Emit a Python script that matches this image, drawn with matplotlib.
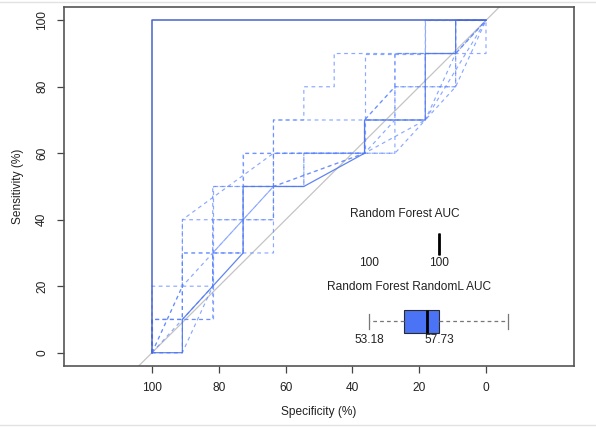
import matplotlib
matplotlib.use("Agg")
import matplotlib.pyplot as plt
from matplotlib.lines import Line2D
import numpy as np

plt.rcParams['font.family'] = ['Liberation Sans', 'DejaVu Sans']
plt.rcParams['font.size'] = 8.6

# Test set size: 11 negatives, 10 positives
n_neg = 11
n_pos = 10

# Perfect classifier ("Random Forest"): false-positive / true-positive counts
rf_fp = [0, 0, 11]
rf_tp = [0, 10, 10]

# Reference curve for the random-label model
rl_fp = [0, 1, 1, 3, 3, 5, 7, 7, 9, 9, 10, 10, 11]
rl_tp = [0, 0, 1, 3, 5, 5, 6, 7, 7, 9, 9, 10, 10]

# Repeated random-label fits (fp, tp count paths)
rep_fp = [
    [0, 0, 1, 1, 4, 4, 5, 5, 6, 6, 10, 10, 11],
    [0, 0, 2, 2, 3, 3, 7, 7, 9, 9, 11],
    [0, 1, 2, 2, 4, 4, 8, 8, 10, 10, 11],
    [0, 1, 2, 2, 3, 3, 4, 7, 7, 9, 10, 11],
    [0, 0, 1, 1, 4, 4, 5, 5, 7, 9, 10, 11],
    [0, 2, 2, 4, 7, 7, 8, 8, 9, 9, 11],
    [0, 0, 1, 1, 3, 3, 7, 8, 8, 10, 11],
    [0, 1, 1, 2, 2, 4, 4, 7, 7, 9, 9, 11, 11],
    [0, 0, 2, 2, 2, 4, 4, 7, 8, 10, 10, 11],
    [0, 1, 1, 2, 3, 4, 5, 5, 8, 9, 11],
]
rep_tp = [
    [0, 2, 2, 4, 6, 7, 7, 8, 8, 9, 9, 10, 10],
    [0, 1, 1, 5, 5, 6, 6, 9, 9, 10, 10],
    [0, 2, 2, 4, 4, 6, 6, 8, 8, 10, 10],
    [0, 0, 2, 3, 3, 5, 5, 6, 7, 7, 9, 10],
    [0, 1, 1, 3, 3, 5, 5, 6, 6, 7, 8, 10],
    [0, 2, 3, 5, 6, 7, 8, 9, 9, 10, 10],
    [0, 1, 1, 3, 3, 6, 6, 7, 9, 9, 10],
    [0, 2, 4, 4, 5, 5, 6, 6, 7, 7, 9, 9, 10],
    [0, 1, 1, 3, 4, 4, 7, 7, 8, 8, 9, 10],
    [0, 0, 2, 3, 4, 5, 5, 6, 6, 7, 10],
]

# AUC summaries (%)
rf_auc = [100, 100, 100, 100, 100]           # whislo, q1, med, q3, whishi
rl_auc = [53.18, 55.92, 57.73, 58.67, 64.10]
auc_titles = ["Random Forest AUC", "Random Forest RandomL AUC"]
auc_left_labels = ["100", "53.18"]
auc_right_labels = ["100", "57.73"]


def spec(fp):
    return 100.0 * (1 - np.asarray(fp) / n_neg)


def sens(tp):
    return 100.0 * np.asarray(tp) / n_pos


fig = plt.figure(figsize=(5.96, 4.28), dpi=100)
ax = fig.add_axes([0.1074, 0.1449, 0.8557, 0.8388])

ax.set_xlim(126.35, -26.35)
ax.set_ylim(-4, 104)

ax.axline((100, 0), (0, 100), color="#c4c4c4", lw=0.9, zorder=1)

for fp, tp in zip(rep_fp, rep_tp):
    ax.plot(spec(fp), sens(tp), color="#5b84ff", alpha=0.7, lw=0.85,
            dashes=(3.2, 3.0), zorder=2)

ax.plot(spec(rl_fp), sens(rl_tp), color="#4f78ee", lw=0.9, alpha=0.9, zorder=3)
ax.plot(spec(rf_fp), sens(rf_tp), color="#4863cc", lw=1.1, zorder=4)


# AUC boxplots placed inside the plot, AUC mapped onto the specificity axis
def auc_to_spec(vals, ref_auc, ref_spec, scale=3.81):
    return [ref_spec - scale * (v - ref_auc) for v in vals]


box_specs = [auc_to_spec(rf_auc, 100, 14.1),
             auc_to_spec(rl_auc, 57.73, 17.7)]
box_pos = [32.7, 9.45]
title_pos = [(24.3, 41.7), (23.0, 19.8)]
label_y = [27.0, 3.9]

for i in range(2):
    s = box_specs[i]
    stats = [dict(whislo=s[0], q1=s[1], med=s[2], q3=s[3], whishi=s[4])]
    ax.bxp(stats, positions=[box_pos[i]], widths=[6.8 if i else 6.6],
           capwidths=[4.5], orientation="horizontal", patch_artist=True,
           showfliers=False, manage_ticks=False,
           boxprops=dict(facecolor="#4a74f5", edgecolor="#2a2a2a", lw=0.8),
           medianprops=dict(color="black", lw=2.0),
           whiskerprops=dict(color="#777777", lw=0.9, dashes=(3, 2.5)),
           capprops=dict(color="#777777", lw=0.9))
    ax.text(title_pos[i][0], title_pos[i][1], auc_titles[i],
            ha="center", va="center", color="#222222")
    ax.text(35.0, label_y[i], auc_left_labels[i], ha="center", va="center",
            color="#222222")
    ax.text(14.1, label_y[i], auc_right_labels[i], ha="center", va="center",
            color="#222222")

ax.set_xticks([100, 80, 60, 40, 20, 0])
ax.set_yticks([0, 20, 40, 60, 80, 100])
ax.tick_params(direction="out", length=5, width=0.9, color="#444444",
               labelcolor="#222222", pad=6.5)
for lbl in ax.get_yticklabels():
    lbl.set_rotation(90)
    lbl.set_va("center")

for sp in ax.spines.values():
    sp.set_color("#555555")
    sp.set_linewidth(1.2)

ax.set_xlabel("Specificity (%)", color="#222222", labelpad=9)
ax.set_ylabel("Sensitivity (%)", color="#222222", labelpad=9)

# thin frame lines above and below the figure
fig.add_artist(Line2D([0, 1], [0.995, 0.995], transform=fig.transFigure,
                      color="#e2e2e2", lw=1))
fig.add_artist(Line2D([0, 1], [0.007, 0.007], transform=fig.transFigure,
                      color="#e2e2e2", lw=1))

fig.savefig("out.png", dpi=100)
